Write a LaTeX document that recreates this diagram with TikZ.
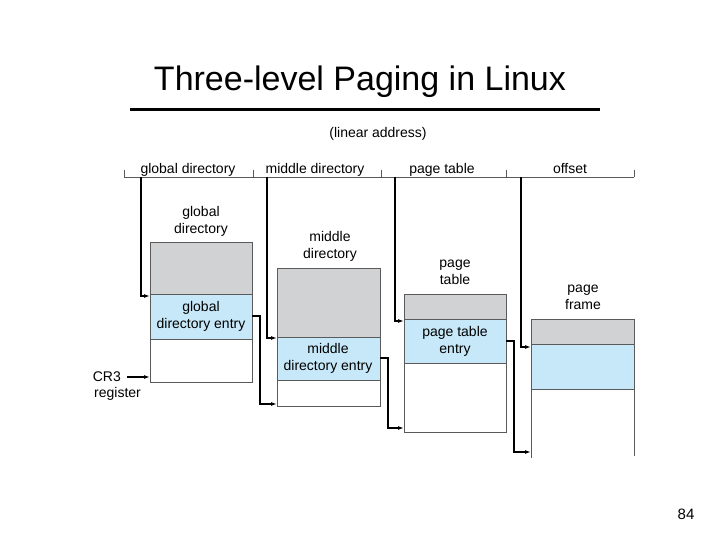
\documentclass[tikz,border=0pt]{standalone}
\usepackage{fontspec}
\setmainfont{Liberation Sans}
\usetikzlibrary{positioning,arrows.meta}
\definecolor{tableGrey}{RGB}{209,210,212}
\definecolor{entryBlue}{RGB}{198,232,248}
\definecolor{lineGrey}{RGB}{90,90,90}
\tikzset{
  lbl/.style={font=\fontsize{14}{17}\selectfont,align=center,inner sep=0pt},
  field/.style={lbl,anchor=base},
  link/.style={line width=1.2pt,-{Latex[length=6pt,width=4pt]}},
  cell/.style={draw=lineGrey,line width=0.6pt}
}
\begin{document}
\begin{tikzpicture}[x=1pt,y=-1pt]
\useasboundingbox (0,0) rectangle (720,540);
% title
\node[font=\fontsize{34}{40}\selectfont] (title) at (360,82) {Three-level Paging in Linux};
\draw[line width=3pt] (130,110) -- (600,110);
\node[lbl] (lin) at (378,134) {(linear address)};
% address fields
\draw[lineGrey,line width=0.6pt] (124,177) -- (634,177);
\foreach \x in {124,253,381,506,634} \draw[lineGrey,line width=0.6pt] (\x,170) -- (\x,177);
\node[field] (fgd) at (188,174) {global directory};
\node[field] (fmd) at (315,174) {middle directory};
\node[field] (fpt) at (442,174) {page table};
\node[field] (fof) at (570,174) {offset};
% tables
\fill[tableGrey] (150,242) rectangle (252,294);
\fill[entryBlue] (150,294) rectangle (252,339);
\draw[cell] (150,242) rectangle (252,382) (150,294) -- (252,294) (150,339) -- (252,339);
\node[lbl] (gdl) at (201,221) {global\\directory};
\node[lbl] (gde) at (201,316) {global\\directory entry};
\fill[tableGrey] (277,268) rectangle (380,337);
\fill[entryBlue] (277,337) rectangle (380,380);
\draw[cell] (277,268) rectangle (380,406) (277,337) -- (380,337) (277,380) -- (380,380);
\node[lbl] (mdl) at (330,246) {middle\\directory};
\node[lbl] (mde) at (328,358) {middle\\directory entry};
\fill[tableGrey] (404,294) rectangle (506,319);
\fill[entryBlue] (404,319) rectangle (506,363);
\draw[cell] (404,294) rectangle (506,432) (404,319) -- (506,319) (404,363) -- (506,363);
\node[lbl] (ptl) at (455,272) {page\\table};
\node[lbl] (pte) at (455,341) {page table\\entry};
\fill[tableGrey] (531,319) rectangle (634,344);
\fill[entryBlue] (531,344) rectangle (634,389);
\draw[cell] (531,458) -- (531,319) -- (634,319) -- (634,456) (531,344) -- (634,344) (531,389) -- (634,389);
\node[lbl] (pfl) at (583,297) {page\\frame};
% CR3
\node[lbl,anchor=east] (cr3) at (121,377) {CR3};
\node[lbl,anchor=west] (reg) at (94,394) {register};
\draw[link] (cr3.east) ++(6,0) -- (150,377);
% links from address fields
\draw[link] (141,177) |- (150,296);
\draw[link] (267,177) |- (277,338);
\draw[link] (395,177) |- (404,321);
\draw[link] (521,177) |- (531,347);
% links from entries
\draw[link] (252,316) -- (260,316) |- (277,404);
\draw[link] (380,358) -- (388,358) |- (404,428);
\draw[link] (506,341) -- (514,341) |- (531,452);
\node[font=\fontsize{15}{16}\selectfont] (pnum) at (686,514) {84};
\end{tikzpicture}
\end{document}
